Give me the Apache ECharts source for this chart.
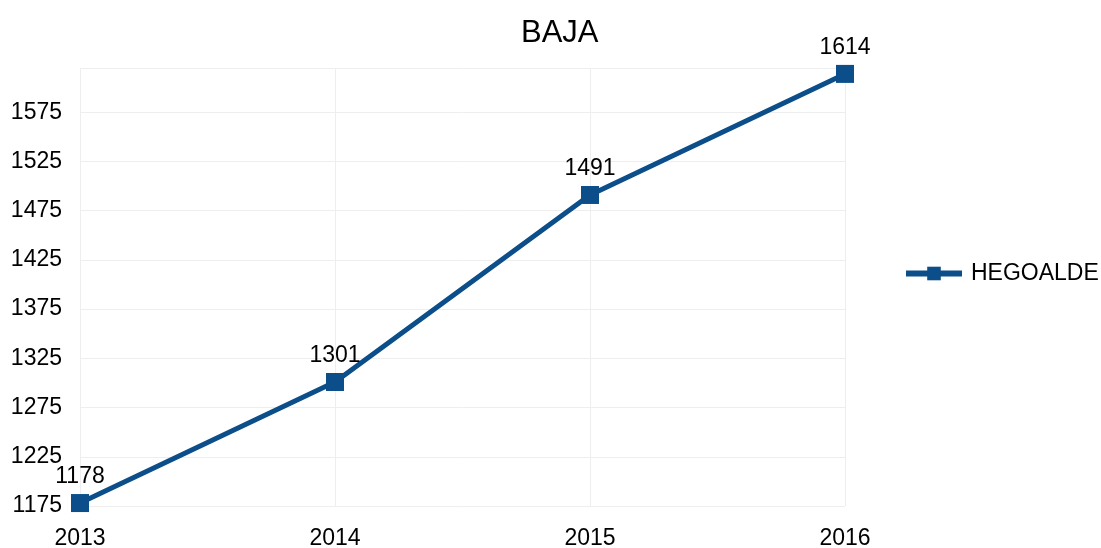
<!DOCTYPE html>
<html>
<head>
<meta charset="utf-8">
<script src="https://cdn.jsdelivr.net/npm/echarts@6/dist/echarts.min.js"></script>
<style>
  html, body { margin: 0; padding: 0; background: #fff; }
  #chart { width: 1101px; height: 548px; }
</style>
</head>
<body>
<div id="chart"></div>
<script>
let years = ['2013', '2014', '2015', '2016'];
let hegoalde = [1178, 1301, 1491, 1614];
// axis runs 1175 .. 1620, labels every 50 from 1175
let axisBase = 1175;
let axisTop = 1620;
let axisStep = 50;

let font = '"Liberation Sans", Arial, sans-serif';
let blue = '#0b4e8a';

let option = {
    backgroundColor: '#fff',
    animation: false,
    title: {
        text: 'BAJA',
        left: 516,
        top: 13,
        textStyle: { fontFamily: font, fontSize: 31, fontWeight: 'normal', color: '#000' }
    },
    legend: {
        data: ['HEGOALDE'],
        left: 903,
        top: 262,
        padding: 0,
        itemWidth: 56,
        itemHeight: 17,
        lineStyle: { width: 6 },
        textStyle: { fontFamily: font, fontSize: 23, color: '#000', padding: [0, 0, 0, 4] }
    },
    grid: { left: 80, right: 256, top: 68, bottom: 42, outerBoundsMode: 'none' },
    xAxis: {
        type: 'category',
        data: years,
        boundaryGap: false,
        axisLine: { show: false },
        axisTick: { show: false },
        splitLine: { show: true, lineStyle: { color: '#eeeeee', width: 1 } },
        axisLabel: { fontFamily: font, fontSize: 23, color: '#000', margin: 21 }
    },
    yAxis: {
        type: 'value',
        // values are shifted by axisBase so the ticks start at 1175
        min: 0,
        max: axisTop - axisBase,
        interval: axisStep,
        axisLine: { show: false },
        axisTick: { show: false },
        splitLine: { lineStyle: { color: '#eeeeee', width: 1 } },
        axisLabel: {
            fontFamily: font, fontSize: 23, color: '#000', margin: 18,
            padding: [3, 0, 0, 0],
            formatter: function (v) {
                if (v % axisStep !== 0) return '';
                return String(v + axisBase);
            }
        }
    },
    series: [{
        name: 'HEGOALDE',
        type: 'line',
        data: hegoalde.map(function (v) { return v - axisBase; }),
        symbol: 'rect',
        symbolSize: 18,
        lineStyle: { color: blue, width: 5 },
        itemStyle: { color: blue },
        label: {
            show: true,
            position: 'top',
            distance: 6,
            fontFamily: font,
            fontSize: 23,
            color: '#000',
            formatter: function (p) { return String(hegoalde[p.dataIndex]); }
        }
    }]
};

let chart = echarts.init(document.getElementById('chart'));
chart.setOption(option);
</script>
</body>
</html>
